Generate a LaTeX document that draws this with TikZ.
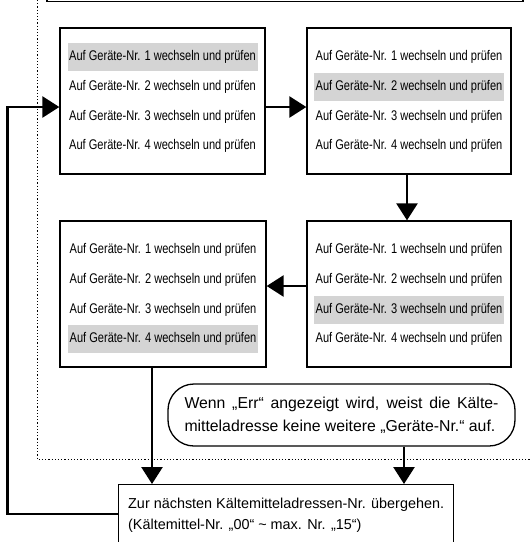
\documentclass[tikz,border=0pt]{standalone}
\usepackage{fontspec}
\setmainfont{Liberation Sans}
\newfontfamily\narrowfont{Liberation Sans}[FakeStretch=0.79]
\usetikzlibrary{arrows.meta}
\definecolor{hlgray}{RGB}{212,212,212}
\begin{document}
\begin{tikzpicture}[x=1pt,y=-1pt,
  stepbox/.style={draw, line width=1.3pt, minimum width=205pt, minimum height=146pt, inner sep=0pt},
  rowtext/.style={font=\narrowfont\fontsize{14}{16}\selectfont, minimum width=190pt, minimum height=28pt, inner sep=0pt, text height=10pt, text depth=3pt},
  hl/.style={rowtext, fill=hlgray},
  flow/.style={line width=2.6pt, -{Triangle[length=17pt,width=21pt]}},
  dotline/.style={line width=1pt, dash pattern=on 1.2pt off 2pt},
  boxline/.style={draw, line width=1.3pt}
]
\useasboundingbox (0,0) rectangle (531,542);

% partial box at top
\draw[line width=1.4pt] (47,-20) rectangle (523,1.5);

% dotted frame
\draw[dotline] (37,0) -- (37,459) -- (531,459);

% step boxes
\node[stepbox] (b1) at (162.5,101) {};
\node[stepbox, minimum width=204pt] (b2) at (409,101) {};
\node[stepbox, minimum width=204pt] (b3) at (409,294) {};
\node[stepbox, minimum width=206pt] (b4) at (163,294) {};

\foreach \b/\h in {b1/1,b2/2,b3/3,b4/4}{
  \foreach \r/\dy in {1/30,2/60,3/90,4/119}{
    \ifnum\r=\h
      \node[hl] (\b r\r) at ([yshift=-\dy pt]\b.north) {Auf Geräte-Nr. \r\ wechseln und prüfen};
    \else
      \node[rowtext] (\b r\r) at ([yshift=-\dy pt]\b.north) {Auf Geräte-Nr. \r\ wechseln und prüfen};
    \fi
  }
}

% note
\node[boxline, rounded corners=26pt, minimum width=347pt, minimum height=62pt,
      text width=314pt, align=justify, inner sep=0pt,
      font=\fontsize{15.8}{23}\selectfont] (note) at (341.5,415)
  {Wenn „Err“ angezeigt wird, weist die Kälte-\linebreak mitteladresse keine weitere „Geräte-Nr.“ auf.};

% final box
\node[boxline, anchor=north west, minimum width=335pt, minimum height=80pt, inner sep=0pt] (fin) at (118,484) {};
\node[anchor=base west, inner sep=0pt, font=\fontsize{14.4}{21}\selectfont] (fin1) at (128,508)
  {Zur nächsten Kältemitteladressen-Nr. übergehen.};
\node[anchor=base west, inner sep=0pt, font=\fontsize{14.4}{21}\selectfont] (fin2) at (128,529)
  {(Kältemittel-Nr. „00“ \textasciitilde\ max. Nr. „15“)};

% connectors
\draw[flow] ([yshift=-6pt]b1.east) -- ([yshift=-6pt]b2.west);
\draw[flow] ([xshift=-2pt]b2.south) -- ([xshift=-2pt]b3.north);
\draw[flow] ([yshift=8pt]b3.west) -- ([yshift=8pt]b4.east);
\draw[flow] ([xshift=-11pt]b4.south) -- ([xshift=-11pt]b4.south |- fin.north);
\draw[flow] ([xshift=62.5pt]note.south) -- ([xshift=62.5pt]note.south |- fin.north);

\coordinate (lc1) at (7.5,514);
\coordinate (lc2) at (7.5,107);
\draw[flow] (lc1 -| fin.west) -- (lc1) -- (lc2) -- (lc2 -| b1.west);
\end{tikzpicture}
\end{document}
